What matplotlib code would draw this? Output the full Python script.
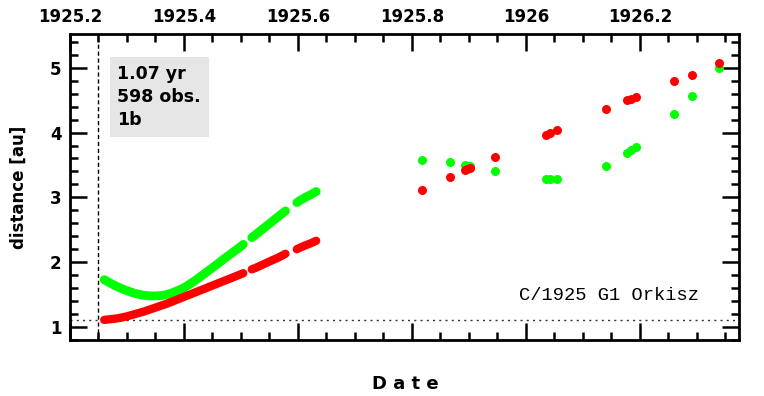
import matplotlib
matplotlib.use("Agg")
import matplotlib.pyplot as plt
from matplotlib.ticker import MultipleLocator, FuncFormatter

# dense arc of observations (1925)
dense_t = [1925.26, 1925.27, 1925.28, 1925.29, 1925.30, 1925.31, 1925.32, 1925.33,
           1925.34, 1925.35, 1925.36, 1925.37, 1925.38, 1925.39, 1925.40, 1925.41,
           1925.42, 1925.43, 1925.44, 1925.45, 1925.46, 1925.47, 1925.48, 1925.49,
           1925.50, 1925.504,
           1925.519, 1925.525, 1925.535, 1925.545, 1925.555, 1925.565, 1925.572, 1925.578,
           1925.598, 1925.605, 1925.613, 1925.622, 1925.632]
dense_r = [1.11, 1.12, 1.13, 1.145, 1.165, 1.19, 1.215, 1.24,
           1.27, 1.30, 1.33, 1.36, 1.395, 1.43, 1.465, 1.50,
           1.535, 1.57, 1.605, 1.64, 1.675, 1.71, 1.745, 1.78,
           1.815, 1.83,
           1.89, 1.91, 1.95, 1.99, 2.03, 2.07, 2.10, 2.13,
           2.20, 2.23, 2.26, 2.29, 2.33]
dense_d = [1.73, 1.68, 1.635, 1.595, 1.56, 1.53, 1.505, 1.49,
           1.48, 1.48, 1.485, 1.50, 1.53, 1.565, 1.605, 1.66,
           1.72, 1.785, 1.85, 1.915, 1.98, 2.05, 2.115, 2.18,
           2.245, 2.275,
           2.38, 2.42, 2.49, 2.56, 2.63, 2.70, 2.75, 2.79,
           2.92, 2.96, 3.00, 3.04, 3.09]
# index ranges of the three unbroken stretches of the dense arc
segments = [(0, 26), (26, 34), (34, 39)]

# sparse later observations
late_t = [1925.817, 1925.867, 1925.893, 1925.897, 1925.902, 1925.945,
          1926.036, 1926.043, 1926.055, 1926.140,
          1926.178, 1926.185, 1926.194, 1926.260, 1926.291, 1926.339]
late_r = [3.12, 3.32, 3.42, 3.44, 3.46, 3.62,
          3.965, 4.00, 4.04, 4.36,
          4.50, 4.52, 4.55, 4.79, 4.89, 5.07]
late_d = [3.57, 3.54, 3.50, 3.49, 3.49, 3.40,
          3.29, 3.29, 3.29, 3.49,
          3.68, 3.73, 3.78, 4.28, 4.56, 5.00]

q = 1.11
t_peri = 1925.25
info = ["1.07 yr", "598 obs.", "1b"]
name = "C/1925 G1 Orkisz"

GREEN = "#00ff00"
RED = "#ff0000"

fig = plt.figure(figsize=(7.64, 3.96), dpi=100)
ax = fig.add_axes([70/764, 56/396, 669/764, 306/396])

# the dense arc is so packed that the dots merge into a band
for a, b in segments:
    ax.plot(dense_t[a:b], dense_d[a:b], color=GREEN, lw=6.4, solid_capstyle="round",
            solid_joinstyle="round", zorder=3)
    ax.plot(dense_t[a:b], dense_r[a:b], color=RED, lw=6.0, solid_capstyle="round",
            solid_joinstyle="round", zorder=4)

ax.scatter(late_t, late_d, s=42, c=GREEN, lw=0, zorder=3)
ax.scatter(late_t, late_r, s=42, c=RED, lw=0, zorder=4)

ax.axhline(q, color="#333333", lw=1, ls=(0, (1.5, 3)), zorder=1)
ax.axvline(t_peri, color="black", lw=1, ls=(0, (3, 2)), zorder=1)

ax.set_xlim(1925.2, 1926.374)
ax.set_ylim(0.8, 5.52)

ax.xaxis.set_major_locator(MultipleLocator(0.2))
ax.xaxis.set_minor_locator(MultipleLocator(0.05))
ax.yaxis.set_major_locator(MultipleLocator(1))
ax.yaxis.set_minor_locator(MultipleLocator(0.2))
ax.xaxis.set_major_formatter(FuncFormatter(lambda v, p: ("%.1f" % v).rstrip("0").rstrip(".")))

ax.tick_params(which="both", direction="in", top=True, right=True, bottom=True, left=True,
               labeltop=True, labelbottom=False, width=1.8)
ax.tick_params(which="major", length=12, labelsize=12, pad=6)
ax.tick_params(which="minor", length=6)
for lab in ax.get_xticklabels() + ax.get_yticklabels():
    lab.set_fontweight("bold")
for s in ax.spines.values():
    s.set_linewidth(2)

ax.set_ylabel("distance [au]", fontsize=12, fontweight="bold", labelpad=16)
fig.text(405/764, 1 - 384/396, "D a t e", ha="center", va="center",
         fontsize=13, fontweight="bold")

ax.text(0.071, 0.9, "\n".join(info), transform=ax.transAxes, ha="left", va="top",
        fontsize=12.5, fontweight="bold", linespacing=1.38,
        bbox=dict(boxstyle="square,pad=0.45", fc="#e6e6e6", ec="none"))

ax.text(0.94, 0.145, name, transform=ax.transAxes, ha="right", va="center",
        fontsize=13.5, family="Liberation Mono")

fig.savefig("out.png", dpi=100)
